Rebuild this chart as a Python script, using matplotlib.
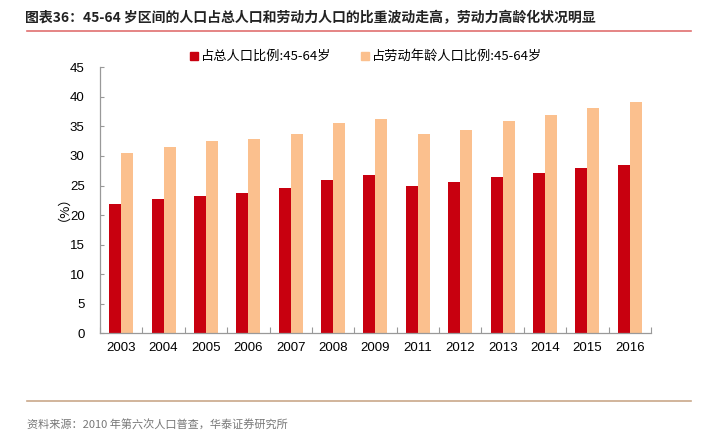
import matplotlib
matplotlib.use("Agg")
import matplotlib.pyplot as plt
import numpy as np
from matplotlib.lines import Line2D

plt.rcParams['font.family'] = ['Noto Sans CJK SC', 'DejaVu Sans']

years = ['2003', '2004', '2005', '2006', '2007', '2008', '2009',
         '2011', '2012', '2013', '2014', '2015', '2016']
share_total = [21.8, 22.7, 23.3, 23.8, 24.6, 26.0, 26.7,
               25.0, 25.6, 26.5, 27.1, 27.9, 28.4]
share_labor = [30.5, 31.5, 32.6, 32.9, 33.8, 35.6, 36.3,
               33.7, 34.4, 35.9, 36.9, 38.1, 39.2]
series_names = ['占总人口比例:45-64岁', '占劳动年龄人口比例:45-64岁']
yticks = [0, 5, 10, 15, 20, 25, 30, 35, 40, 45]

title = '图表36：45-64 岁区间的人口占总人口和劳动力人口的比重波动走高，劳动力高龄化状况明显'
source = '资料来源：2010 年第六次人口普查，华泰证券研究所'

red = '#C8000F'
orange = '#FBC08E'
axis_gray = '#999999'

fig = plt.figure(figsize=(7.03, 4.36), dpi=100)
ax = fig.add_axes([0.1422, 0.2356, 0.926 - 0.1422, 0.8456 - 0.2356])

x = np.arange(len(years))
w = 0.283
ax.bar(x - w / 2, share_total, width=w, color=red, label=series_names[0], zorder=2)
ax.bar(x + w / 2, share_labor, width=w, color=orange, label=series_names[1], zorder=2)

ax.set_xlim(-0.5, len(years) - 0.5)
ax.set_ylim(0, 45)
ax.set_yticks(yticks)
ax.set_yticklabels([str(v) for v in yticks], fontsize=9.5, family=['Liberation Sans', 'DejaVu Sans'])
ax.set_xticks(x)
ax.set_xticklabels(years, fontsize=9.5, family=['Liberation Sans', 'DejaVu Sans'])
ax.tick_params(axis='x', which='major', length=0, pad=6)
ax.set_xticks(np.arange(len(years) + 1) - 0.5, minor=True)
ax.tick_params(axis='x', which='minor', direction='in', length=4, color=axis_gray, width=0.8)
ax.tick_params(axis='y', direction='in', length=3, color=axis_gray, width=0.8, pad=11)

for s in ['top', 'right']:
    ax.spines[s].set_visible(False)
for s in ['left', 'bottom']:
    ax.spines[s].set_color(axis_gray)
    ax.spines[s].set_linewidth(0.9)

fig.text(0.081, 0.537, '（%）', rotation=90, ha='center', va='center', fontsize=9.5)

handles = [Line2D([], [], marker='s', linestyle='none', color=red, markersize=5.5),
           Line2D([], [], marker='s', linestyle='none', color=orange, markersize=5.5)]
fig.legend(handles, series_names, loc='center', bbox_to_anchor=(0.52, 0.870),
           ncol=2, frameon=False, fontsize=9.5, handletextpad=0.1,
           columnspacing=2.2, handlelength=0.8)

fig.text(0.036, 0.958, title, fontsize=10, fontweight='bold', color='#222222',
         ha='left', va='center')
fig.add_artist(Line2D([0.038, 0.983], [0.929, 0.929], color='#E07070', linewidth=1.2,
                      transform=fig.transFigure))
fig.add_artist(Line2D([0.038, 0.983], [0.08, 0.08], color='#C9A88A', linewidth=1.2,
                      transform=fig.transFigure))
fig.text(0.038, 0.025, source, fontsize=8, color='#777777', ha='left', va='center')

fig.savefig('out.png', dpi=100)
